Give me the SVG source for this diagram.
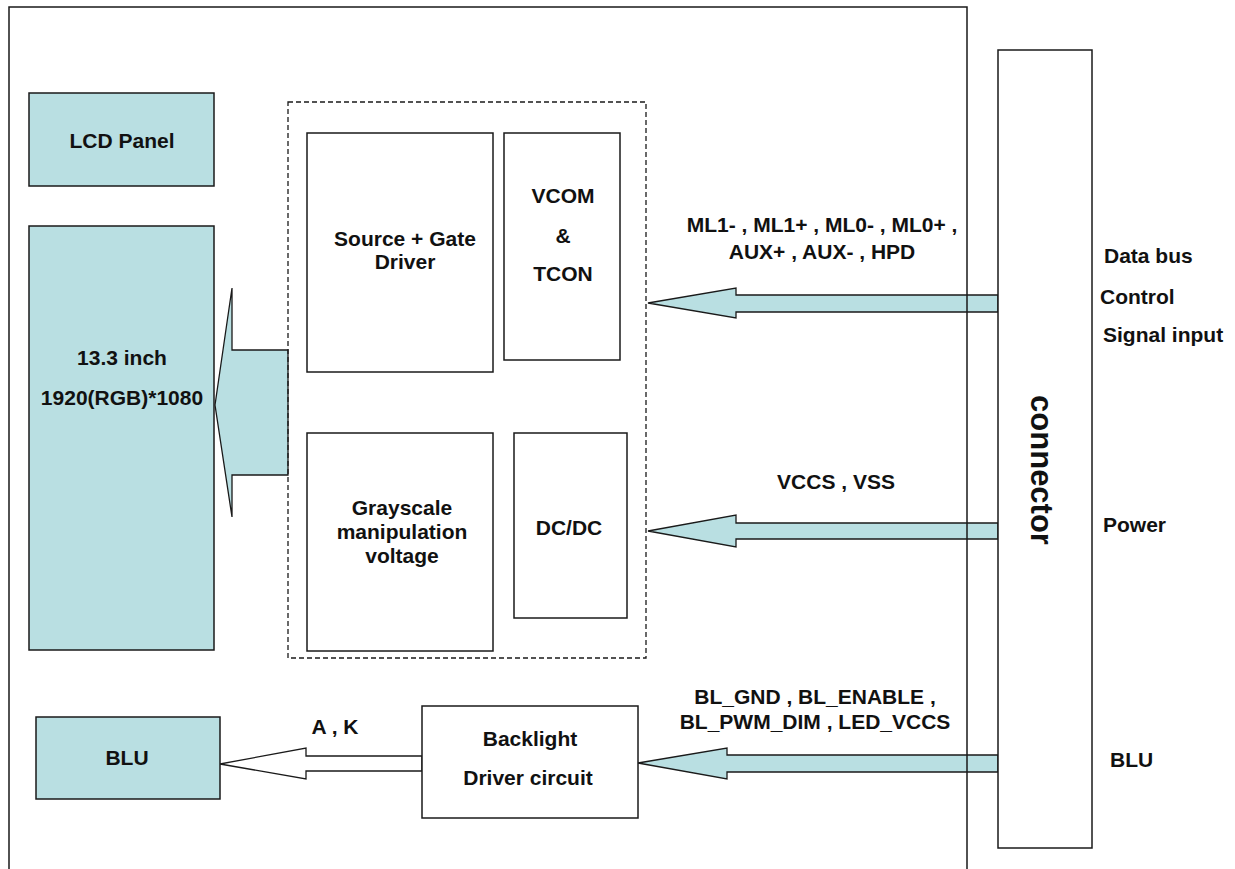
<svg xmlns="http://www.w3.org/2000/svg" width="1235" height="869" viewBox="0 0 1235 869">
<style>
.box{fill:#ffffff;stroke:#1a1a1a;stroke-width:1.5}
.blue{fill:#B9DFE2;stroke:#1a1a1a;stroke-width:1.5}
.arr{fill:#B9DFE2;stroke:#1a1a1a;stroke-width:1.3;stroke-linejoin:miter}
.warr{fill:#ffffff;stroke:#1a1a1a;stroke-width:1.3}
.dash{fill:none;stroke:#1a1a1a;stroke-width:1.3;stroke-dasharray:5,3}
text{font-family:"Liberation Sans",Arial,sans-serif;font-weight:bold;font-size:21px;fill:#111}
.c{text-anchor:middle}
</style>
<rect width="1235" height="869" fill="#ffffff"/>
<g id="connectors">
<polygon class="arr" points="215,405 232,288 232,350 288,350 288,475 232,475 232,517"/>
<polygon class="arr" points="648,303 736,288 736,295 998,295 998,312 736,312 736,318"/>
<polygon class="arr" points="648,531 736,515 736,523 998,523 998,539 736,539 736,547"/>
<polygon class="arr" points="638,763 727,748 727,755 998,755 998,772 727,772 727,779"/>
<polygon class="warr" points="220,764 306,748 306,756 422,756 422,771 306,771 306,779"/>
</g>
<path id="frame" d="M9,869 V7 H967 V869" fill="none" stroke="#1a1a1a" stroke-width="1.5"/>
<rect id="tcon-group" class="dash" x="288" y="102" width="358" height="556"/>
<g id="lcd-panel"><rect class="blue" x="29" y="93" width="185" height="93"/><text class="c" x="122" y="148">LCD Panel</text></g>
<g id="panel"><rect class="blue" x="29" y="226" width="185" height="424"/><text class="c" x="122" y="365">13.3 inch</text><text class="c" x="122" y="405">1920(RGB)*1080</text></g>
<g id="source-gate"><rect class="box" x="307" y="133" width="186" height="239"/><text class="c" x="405" y="246">Source + Gate</text><text class="c" x="405" y="269">Driver</text></g>
<g id="vcom-tcon"><rect class="box" x="504" y="133" width="116" height="227"/><text class="c" x="563" y="203">VCOM</text><text class="c" x="563" y="243">&amp;</text><text class="c" x="563" y="281">TCON</text></g>
<g id="grayscale"><rect class="box" x="307" y="433" width="186" height="218"/><text class="c" x="402" y="515">Grayscale</text><text class="c" x="402" y="539">manipulation</text><text class="c" x="402" y="563">voltage</text></g>
<g id="dcdc"><rect class="box" x="514" y="433" width="113" height="185"/><text class="c" x="569" y="535">DC/DC</text></g>
<g id="blu"><rect class="blue" x="36" y="717" width="184" height="82"/><text class="c" x="127" y="765">BLU</text></g>
<g id="backlight"><rect class="box" x="422" y="706" width="216" height="112"/><text class="c" x="530" y="746">Backlight</text><text class="c" x="528" y="785">Driver circuit</text></g>
<g id="connector"><rect class="box" x="998" y="50" width="94" height="798"/><text class="c" transform="translate(1031,470) rotate(90)" style="font-size:31px">connector</text></g>
<g id="labels">
<text class="c" x="822" y="232">ML1- , ML1+ , ML0- , ML0+ ,</text>
<text class="c" x="822" y="259">AUX+ , AUX- , HPD</text>
<text class="c" x="836" y="489">VCCS , VSS</text>
<text class="c" x="815" y="704">BL_GND , BL_ENABLE ,</text>
<text class="c" x="815" y="729">BL_PWM_DIM , LED_VCCS</text>
<text class="c" x="335" y="734">A , K</text>
<text x="1104" y="263">Data bus</text>
<text x="1100" y="304">Control</text>
<text x="1103" y="342">Signal input</text>
<text x="1103" y="532">Power</text>
<text x="1110" y="767">BLU</text>
</g>
</svg>
